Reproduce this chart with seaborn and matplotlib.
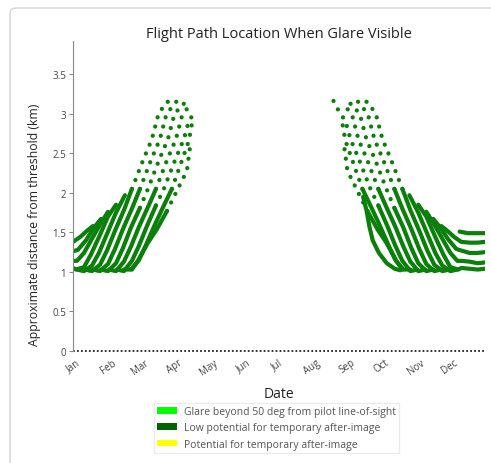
import matplotlib
matplotlib.use("Agg")
import matplotlib.pyplot as plt
from matplotlib.patches import Patch, FancyBboxPatch
from matplotlib.transforms import IdentityTransform
import pandas as pd
import seaborn as sns

sns.set_style("white")
plt.rcParams["font.family"] = ["Open Sans", "DejaVu Sans"]

# --- axis labelling -------------------------------------------------------
month_labels = ["Jan", "Feb", "Mar", "Apr", "May", "Jun",
                "Jul", "Aug", "Sep", "Oct", "Nov", "Dec"]
month_start_days = [1, 32, 60, 91, 121, 152, 182, 213, 244, 274, 305, 335]
km_ticks = [0, 0.5, 1, 1.5, 2, 2.5, 3, 3.5]
km_tick_labels = ["0", "0.5", "1", "1.5", "2", "2.5", "3", "3.5"]

# --- days without glare (distance 0) ---------------------------------------
no_glare_days = [1, 366]
no_glare_km = [0, 0]

# --- glare tracks, (day of year, km from threshold) -------------------------
# Jan-Apr: dense lower part of each track
spring_solid = [
    [(1, 1.38), (7.2, 1.44), (13.4, 1.52), (18.7, 1.58)],
    [(1, 1.26), (5.4, 1.28), (12.5, 1.40), (19.6, 1.56), (25.8, 1.67)],
    [(1, 1.14), (4.5, 1.14), (10.7, 1.24), (17.8, 1.42), (25.8, 1.62), (32.0, 1.76)],
    [(1, 1.05), (3.7, 1.03), (10.7, 1.06), (16.9, 1.22), (24.0, 1.44), (32.0, 1.70), (39.1, 1.85)],
    [(4.5, 1.03), (10.7, 1.01), (17.8, 1.08), (24.0, 1.24), (31.1, 1.48), (39.1, 1.75), (47.0, 1.97)],
    [(11.6, 1.03), (17.8, 1.01), (24.9, 1.09), (31.1, 1.27), (38.2, 1.52), (46.1, 1.78), (53.2, 2.05)],
    [(18.7, 1.03), (24.9, 1.01), (32.0, 1.10), (38.2, 1.29), (45.2, 1.54), (53.2, 1.80), (60.3, 2.05)],
    [(25.8, 1.03), (32.0, 1.01), (39.1, 1.11), (45.2, 1.30), (52.3, 1.56), (60.3, 1.81)],
    [(32.9, 1.03), (39.1, 1.01), (46.1, 1.13), (52.3, 1.32), (59.4, 1.57), (67.4, 1.82), (74.5, 2.05)],
    [(39.9, 1.03), (46.1, 1.01), (53.2, 1.14), (59.4, 1.33), (66.5, 1.58), (74.5, 1.84)],
    [(46.1, 1.03), (52.3, 1.03), (59.4, 1.15), (65.6, 1.34), (73.6, 1.60), (81.5, 1.84), (88.6, 2.05)],
    [(53.2, 1.03), (58.5, 1.14), (67.4, 1.37), (75.3, 1.54), (84.2, 1.77)],
]
# Jan-Apr: sparse upper part of the later tracks
spring_dotted = [
    [(53.2, 2.05), (63.0, 2.41), (70.9, 2.68), (76.2, 2.97), (82.4, 3.13), (89.5, 3.19)],
    [(60.3, 2.05), (70.0, 2.41), (78.0, 2.68), (83.3, 2.97), (89.5, 3.11), (96.6, 3.21)],
    [(60.3, 1.81), (67.4, 2.05), (77.1, 2.41), (85.1, 2.68), (90.4, 2.97), (96.6, 3.11), (102.8, 3.15)],
    [(74.5, 2.05), (84.2, 2.41), (92.2, 2.68), (97.5, 2.97), (102.8, 3.08), (108.1, 3.09)],
    [(74.5, 1.84), (81.5, 2.05), (91.3, 2.41), (99.2, 2.68), (103.7, 2.91), (109.8, 3.04)],
    [(88.6, 2.05), (97.5, 2.41), (103.7, 2.66), (106.3, 2.87)],
    [(84.2, 1.77), (93.9, 2.05), (101.9, 2.28), (104.5, 2.56)],
]
# Aug-Dec: dense lower part of each track
autumn_solid = [
    [(343.5, 1.51), (350.6, 1.49), (357.7, 1.49), (366, 1.49)],
    [(327.3, 1.58), (332.6, 1.52), (338.8, 1.44), (345, 1.38), (352.3, 1.37), (359.4, 1.37), (366, 1.38)],
    [(320.2, 1.67), (326.4, 1.56), (333.5, 1.41), (340.6, 1.29), (345, 1.27), (352.3, 1.24),
     (359.4, 1.24), (366, 1.25)],
    [(314.0, 1.76), (320.2, 1.62), (328.2, 1.42), (335.3, 1.24), (341.5, 1.14), (345, 1.14),
     (352.3, 1.13), (359.4, 1.11), (366, 1.12)],
    [(306.9, 1.85), (314.0, 1.70), (322.0, 1.44), (329.1, 1.22), (335.3, 1.06), (342.3, 1.03),
     (345, 1.05), (352.3, 1.04), (359.4, 1.03), (366, 1.04)],
    [(299.0, 1.97), (306.9, 1.75), (314.9, 1.48), (322.0, 1.24), (328.2, 1.08), (335.3, 1.01), (341.5, 1.03)],
    [(292.8, 2.05), (299.9, 1.78), (307.8, 1.52), (314.9, 1.27), (321.1, 1.09), (328.2, 1.01), (334.4, 1.03)],
    [(285.7, 2.05), (292.8, 1.80), (300.8, 1.54), (307.8, 1.29), (314.0, 1.10), (321.1, 1.01), (327.3, 1.03)],
    [(285.7, 1.81), (293.7, 1.56), (300.8, 1.30), (306.9, 1.11), (314.0, 1.01), (320.2, 1.03)],
    [(271.5, 2.05), (278.6, 1.82), (286.6, 1.57), (293.7, 1.32), (299.9, 1.13), (306.9, 1.01), (313.1, 1.03)],
    [(271.5, 1.84), (279.5, 1.58), (286.6, 1.33), (292.8, 1.14), (299.9, 1.01), (306.1, 1.03)],
    [(257.4, 2.05), (264.5, 1.84), (272.4, 1.60), (280.4, 1.34), (286.6, 1.15), (293.7, 1.03), (299.9, 1.03)],
    [(261.8, 1.77), (270.7, 1.54), (278.6, 1.37), (287.5, 1.14), (292.8, 1.03)],
    [(258.0, 1.95), (261.0, 1.78), (263.5, 1.58), (266.5, 1.40), (272.0, 1.24), (279.0, 1.11),
     (286.0, 1.04), (291.0, 1.02)],
]
# Aug-Dec: sparse upper part of the earlier tracks
autumn_dotted = [
    [(292.8, 2.05), (283.0, 2.41), (275.1, 2.68), (269.8, 2.97), (263.6, 3.13), (256.5, 3.19)],
    [(285.7, 2.05), (276.0, 2.41), (268.0, 2.68), (262.7, 2.97), (256.5, 3.11), (249.4, 3.21)],
    [(285.7, 1.81), (278.6, 2.05), (268.9, 2.41), (260.9, 2.68), (255.6, 2.97), (249.4, 3.11), (243.2, 3.15)],
    [(271.5, 2.05), (261.8, 2.41), (253.8, 2.68), (248.5, 2.97), (243.2, 3.08), (237.9, 3.09)],
    [(271.5, 1.84), (264.5, 2.05), (254.7, 2.41), (246.8, 2.68), (242.3, 2.91), (236.2, 3.04), (231.5, 3.17)],
    [(257.4, 2.05), (248.5, 2.41), (242.3, 2.66), (239.7, 2.87)],
    [(261.8, 1.77), (252.1, 2.05), (244.1, 2.28), (241.5, 2.56)],
]

legend_labels = ["Glare beyond 50 deg from pilot line-of-sight",
                 "Low potential for temporary after-image",
                 "Potential for temporary after-image"]
legend_colors = ["#00ff00", "#006400", "#ffff00"]


def tracks_frame(tracks, tag):
    rows = []
    for i, pts in enumerate(tracks):
        for day, km in pts:
            rows.append({"day": day, "km": km, "track": f"{tag}{i}"})
    return pd.DataFrame(rows)


solid = pd.concat([tracks_frame(spring_solid, "s"), tracks_frame(autumn_solid, "a")])
dotted = pd.concat([tracks_frame(spring_dotted, "s"), tracks_frame(autumn_dotted, "a")])
zero = pd.DataFrame({"day": no_glare_days, "km": no_glare_km})

W, H = 491, 464
fig = plt.figure(figsize=(W / 100, H / 100), dpi=100)
fig.patch.set_facecolor("white")

# card outline around the figure
card = FancyBboxPatch((10, -40), 560, H - 9 + 40, boxstyle="round,pad=0,rounding_size=6",
                      transform=IdentityTransform(), facecolor="none",
                      edgecolor="#d4d4d4", linewidth=1.0, zorder=-5)
fig.patches.append(card)

ax = fig.add_axes([73 / W, 1 - 352 / H, (485 - 73) / W, (352 - 42) / H])
ax.set_facecolor("none")

track_green = "#0a7f0a"
sns.lineplot(data=solid, x="day", y="km", units="track", estimator=None, sort=False,
             color=track_green, linewidth=3.0, solid_capstyle="round",
             solid_joinstyle="round", ax=ax, legend=False)
sns.lineplot(data=dotted, x="day", y="km", units="track", estimator=None, sort=False,
             color=track_green, linewidth=3.1, linestyle=(0, (0.01, 2.2)),
             dash_capstyle="round", ax=ax, legend=False)
sns.lineplot(data=zero, x="day", y="km", color="#222222", linewidth=1.3,
             linestyle=(0, (1, 1.2)), ax=ax, legend=False, clip_on=False)

ax.set_xlim(1, 366)
ax.set_ylim(0, 3.92)
ax.set_xticks(month_start_days)
ax.set_xticklabels(month_labels, rotation=35, ha="center", fontsize=7, color="#444444")
ax.set_yticks(km_ticks)
ax.set_yticklabels(km_tick_labels, fontsize=7, color="#444444")
ax.tick_params(axis="x", length=0, pad=4)
ax.tick_params(axis="y", length=3, width=0.8, color="#888888", pad=2, left=True)
for side in ["top", "right", "bottom"]:
    ax.spines[side].set_visible(False)
ax.spines["left"].set_color("#888888")
ax.spines["left"].set_linewidth(0.8)

ax.set_title("Flight Path Location When Glare Visible", fontsize=10.5, color="#222222", pad=3)
ax.set_xlabel("Date", fontsize=10, color="#222222", labelpad=7)
ax.set_ylabel("Approximate distance from threshold (km)", fontsize=8.8, color="#222222")
ax.yaxis.set_label_coords(-0.078, 0.41)

handles = [Patch(facecolor=c, edgecolor="none") for c in legend_colors]
fig.legend(handles, legend_labels, loc="upper left",
           bbox_to_anchor=(154 / W, 1 - 404 / H), fontsize=7.5, frameon=True,
           edgecolor="#e6e6e6", fancybox=False, handlelength=1.9, handleheight=0.6,
           handletextpad=0.7, labelspacing=0.5, borderpad=0.3, borderaxespad=0,
           labelcolor="#555555")

fig.savefig("out.png", dpi=100)
